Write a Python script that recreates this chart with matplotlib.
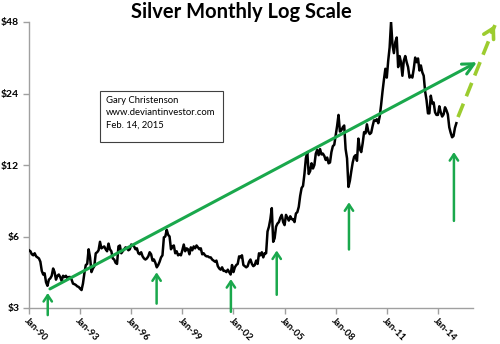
import matplotlib
matplotlib.use("Agg")
import matplotlib.pyplot as plt
from matplotlib.patches import Rectangle
import numpy as np

# Monthly silver prices, Jan 1990 .. Feb 2015
start_year = 1990
prices = [
    # 1990
    5.25, 5.20, 5.05, 5.00, 5.10, 4.95, 4.90, 4.85, 4.70, 4.30, 4.15, 4.20,
    # 1991
    3.85, 3.72, 3.95, 4.00, 4.10, 4.40, 4.25, 3.95, 4.10, 4.15, 4.05, 3.90,
    # 1992
    4.10, 4.05, 4.10, 4.00, 4.05, 4.05, 3.95, 3.80, 3.78, 3.75, 3.70, 3.68,
    # 1993
    3.62, 3.57, 3.80, 4.20, 4.55, 4.60, 5.30, 4.90, 4.25, 4.40, 4.50, 5.10,
    # 1994
    5.15, 5.25, 5.70, 5.35, 5.40, 5.45, 5.30, 5.20, 5.60, 5.30, 5.20, 4.85,
    # 1995
    4.80, 4.65, 4.60, 5.45, 5.50, 5.10, 5.20, 5.30, 5.40, 5.35, 5.25, 5.30,
    # 1996
    5.55, 5.50, 5.45, 5.30, 5.35, 5.10, 5.05, 5.15, 4.95, 4.85, 4.80, 4.85,
    # 1997
    4.95, 5.15, 5.05, 4.75, 4.80, 4.65, 4.45, 4.55, 4.70, 4.90, 5.00, 5.95,
    # 1998
    6.00, 6.40, 6.10, 6.00, 5.30, 5.45, 5.50, 5.10, 5.20, 5.00, 5.05, 5.00,
    # 1999
    5.25, 5.55, 5.20, 5.35, 5.30, 5.05, 5.40, 5.25, 5.45, 5.35, 5.50, 5.40,
    # 2000
    5.30, 5.35, 5.05, 5.10, 5.00, 4.95, 4.95, 4.90, 4.90, 4.80, 4.75, 4.70,
    # 2001
    4.75, 4.50, 4.40, 4.35, 4.45, 4.30, 4.30, 4.25, 4.35, 4.25, 4.15, 4.55,
    # 2002
    4.25, 4.45, 4.55, 4.60, 4.95, 4.90, 5.00, 4.55, 4.50, 4.45, 4.50, 4.70,
    # 2003
    4.80, 4.60, 4.50, 4.55, 4.75, 4.60, 5.10, 5.00, 5.15, 4.90, 5.10, 5.10,
    # 2004
    6.30, 6.60, 7.10, 7.90, 5.70, 5.90, 6.60, 6.80, 6.90, 7.20, 7.40, 6.90,
    # 2005
    6.70, 7.40, 7.20, 7.00, 7.30, 7.10, 7.10, 6.90, 7.50, 7.60, 8.00, 8.90,
    # 2006
    9.60, 9.80, 11.0, 12.8, 13.6, 11.0, 11.3, 12.2, 11.6, 12.0, 13.4, 13.9,
    # 2007
    13.2, 14.0, 13.3, 13.4, 13.1, 12.6, 12.9, 12.2, 12.3, 13.6, 14.4, 14.6,
    # 2008
    16.0, 17.5, 19.5, 16.6, 16.8, 17.3, 17.6, 14.0, 12.8, 9.7, 10.3, 11.3,
    # 2009
    12.3, 13.0, 13.2, 12.5, 15.5, 14.0, 13.6, 14.8, 16.5, 16.3, 17.8, 16.6,
    # 2010
    16.2, 16.4, 17.5, 18.5, 18.4, 18.7, 18.0, 19.2, 21.5, 24.5, 27.5, 30.5,
    # 2011
    28.0, 33.0, 37.5, 48.0, 38.5, 35.5, 39.5, 41.3, 31.0, 34.5, 32.5, 28.5,
    # 2012
    33.0, 34.5, 32.5, 31.0, 28.0, 28.5, 28.0, 30.5, 34.0, 32.5, 33.7, 30.0,
    # 2013
    31.5, 29.5, 28.5, 24.5, 22.5, 19.8, 19.8, 23.5, 21.8, 22.0, 20.0, 19.5,
    # 2014
    19.5, 21.2, 20.0, 19.2, 19.6, 21.0, 20.4, 19.6, 17.3, 16.4, 15.7, 15.9,
    # 2015
    17.2, 18.0,
]

y_ticks = [3, 6, 12, 24, 48]
y_labels = ["$3", "$6", "$12", "$24", "$48"]
x_tick_years = [1990, 1993, 1996, 1999, 2002, 2005, 2008, 2011, 2014]
x_labels = ["Jan-90", "Jan-93", "Jan-96", "Jan-99", "Jan-02",
            "Jan-05", "Jan-08", "Jan-11", "Jan-14"]

# green "support" arrows (x year, bottom value, tip value)
up_arrows_x = [1991.10, 1997.49, 2001.85, 2004.54, 2008.78, 2014.94]
up_arrows_bottom = [2.80, 3.13, 2.89, 3.41, 5.29, 6.98]
up_arrows_tip = [3.47, 4.24, 3.97, 5.24, 8.36, 13.6]

trend_start = (1991.23, 3.61)
trend_end = (2016.29, 32.5)
proj_start = (2015.18, 19.1)
proj_end = (2017.35, 46.6)

title = "Silver Monthly Log Scale"
note_lines = ["Gary Christenson", "www.deviantinvestor.com", "Feb. 14, 2015"]

GREEN = "#1aa84c"
LIME = "#9ccc2f"
GRAY = "#a0a0a0"

fig = plt.figure(figsize=(5.0, 3.44), dpi=100)
ax = fig.add_axes([29 / 500, 1 - 308 / 344, (473 - 29) / 500, (308 - 22) / 344])

t = start_year + np.arange(len(prices)) / 12.0
ax.plot(t, prices, color="black", lw=1.8, solid_joinstyle="round", zorder=3)

ax.set_yscale("log", base=2)
ax.set_ylim(3, 48)
ax.set_xlim(1990, 2016.06)
ax.set_yticks(y_ticks)
ax.set_yticklabels(y_labels)
ax.minorticks_off()
ax.set_xticks(x_tick_years)
ax.set_xticklabels(x_labels)

for s in ["top", "right"]:
    ax.spines[s].set_visible(False)
for s in ["left", "bottom"]:
    ax.spines[s].set_color(GRAY)
    ax.spines[s].set_linewidth(1.0)
ax.tick_params(axis="both", colors=GRAY, length=4, width=1.0, direction="out")
ax.tick_params(axis="y", pad=3)
for lab in ax.get_yticklabels():
    lab.set_color("black")
    lab.set_fontweight("bold")
    lab.set_fontsize(7.5)
    lab.set_family("Lato")
for lab in ax.get_xticklabels():
    lab.set_color("black")
    lab.set_fontweight("bold")
    lab.set_fontsize(6.8)
    lab.set_family("Lato")
    lab.set_rotation(-45)
    lab.set_ha("left")
    lab.set_va("top")
    lab.set_rotation_mode("anchor")
ax.tick_params(axis="x", pad=1.5)

# trend arrow
ax.annotate("", xy=trend_end, xytext=trend_start,
            arrowprops=dict(arrowstyle="->,head_length=0.8,head_width=0.4",
                            color=GREEN, lw=2.2, shrinkA=0, shrinkB=0),
            annotation_clip=False, zorder=4)

# projection dashed arrow
ax.plot([proj_start[0], proj_end[0]], [proj_start[1], proj_end[1]],
        color=LIME, lw=2.6, dashes=(4, 2.2), clip_on=False, zorder=4)
ax.annotate("", xy=proj_end, xytext=(proj_end[0] - 0.2, proj_end[1] * 0.94),
            arrowprops=dict(arrowstyle="->,head_length=0.7,head_width=0.4",
                            color=LIME, lw=2.6, shrinkA=0, shrinkB=0),
            annotation_clip=False, zorder=4)

# support arrows
for xv, b, tp in zip(up_arrows_x, up_arrows_bottom, up_arrows_tip):
    ax.annotate("", xy=(xv, tp), xytext=(xv, b),
                arrowprops=dict(arrowstyle="->,head_length=0.45,head_width=0.3",
                                color=GREEN, lw=1.8, shrinkA=0, shrinkB=0),
                annotation_clip=False, zorder=4)

# title
fig.text(241 / 500, 1 - 12 / 344, title, ha="center", va="center",
         fontsize=14.5, fontweight="bold", family="Lato")

# note box
fig.patches.append(Rectangle((100 / 500, 1 - 142 / 344), 123 / 500, 51 / 344,
                             transform=fig.transFigure, facecolor="white",
                             edgecolor="#404040", lw=0.8))
for i, line in enumerate(note_lines):
    fig.text(106 / 500, 1 - (100 + 12.8 * i) / 344, line, ha="left", va="center",
             fontsize=6.8, family="Lato")

fig.savefig("out.png", dpi=100)
